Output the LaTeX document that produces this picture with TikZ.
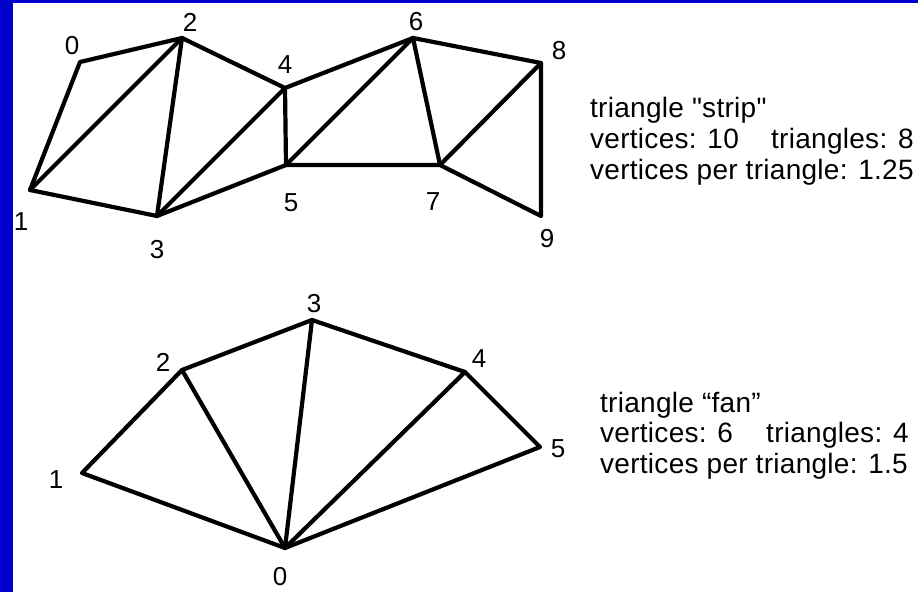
\documentclass[tikz,border=0pt]{standalone}
\usepackage{fontspec}
\setmainfont{Liberation Sans}[LetterSpace=1,Ligatures=TeXOff]
\definecolor{frameblue}{RGB}{0,0,204}
\begin{document}
\begin{tikzpicture}[x=1pt,y=-1pt,
  edge/.style={line width=4.2pt,line join=round,line cap=round},
  lbl/.style={inner sep=0pt,font=\fontsize{26}{30}\selectfont},
  info/.style={inner sep=0pt,anchor=base west,align=left,font=\fontsize{28}{31}\selectfont}]
\useasboundingbox (0,0) rectangle (918,592);
\fill[white] (0,0) rectangle (918,592);
\fill[frameblue] (0,0) rectangle (13,592);
\fill[frameblue] (0,0) rectangle (918,3);
% strip vertices
\coordinate (s0) at (80,62);
\coordinate (s1) at (30,190);
\coordinate (s2) at (182,38);
\coordinate (s3) at (157,216);
\coordinate (s4) at (285,88);
\coordinate (s5) at (286,165);
\coordinate (s6) at (413,38);
\coordinate (s7) at (440,165);
\coordinate (s8) at (541,63);
\coordinate (s9) at (541,216);
\draw[edge] (s0) -- (s2) -- (s4) -- (s6) -- (s8) -- (s9) -- (s7) -- (s5) -- (s3) -- (s1) -- cycle;
\draw[edge] (s1) -- (s2);
\draw[edge] (s2) -- (s3);
\draw[edge] (s3) -- (s4);
\draw[edge] (s4) -- (s5);
\draw[edge] (s5) -- (s6);
\draw[edge] (s6) -- (s7);
\draw[edge] (s7) -- (s8);
\node[lbl] (ls0) at (72,46) {0};
\node[lbl] (ls1) at (21,222) {1};
\node[lbl] (ls2) at (190,22) {2};
\node[lbl] (ls3) at (157,250) {3};
\node[lbl] (ls4) at (285,65) {4};
\node[lbl] (ls5) at (291,203) {5};
\node[lbl] (ls6) at (416,22) {6};
\node[lbl] (ls7) at (433,202) {7};
\node[lbl] (ls8) at (559,51) {8};
\node[lbl] (ls9) at (547,239) {9};
\node[info] (tstrip1) at (590,117) {triangle "strip"};
\node[info] (tstrip2) at (590,148) {\makebox[181pt][l]{vertices: 10}triangles: 8};
\node[info] (tstrip3) at (590,179) {vertices per triangle: 1.25};
% fan vertices
\coordinate (f0) at (285,548);
\coordinate (f1) at (82,473);
\coordinate (f2) at (182,370);
\coordinate (f3) at (312,320);
\coordinate (f4) at (465,372);
\coordinate (f5) at (540,447);
\draw[edge] (f0) -- (f1) -- (f2) -- (f3) -- (f4) -- (f5) -- cycle;
\draw[edge] (f0) -- (f2);
\draw[edge] (f0) -- (f3);
\draw[edge] (f0) -- (f4);
\node[lbl] (lf0) at (280,577) {0};
\node[lbl] (lf1) at (56,480) {1};
\node[lbl] (lf2) at (163,362) {2};
\node[lbl] (lf3) at (314,304) {3};
\node[lbl] (lf4) at (479,359) {4};
\node[lbl] (lf5) at (558,449) {5};
\node[info] (tfan1) at (600,412) {triangle “fan”};
\node[info] (tfan2) at (600,442) {\makebox[166pt][l]{vertices: 6}triangles: 4};
\node[info] (tfan3) at (600,473) {vertices per triangle: 1.5};
\end{tikzpicture}
\end{document}
